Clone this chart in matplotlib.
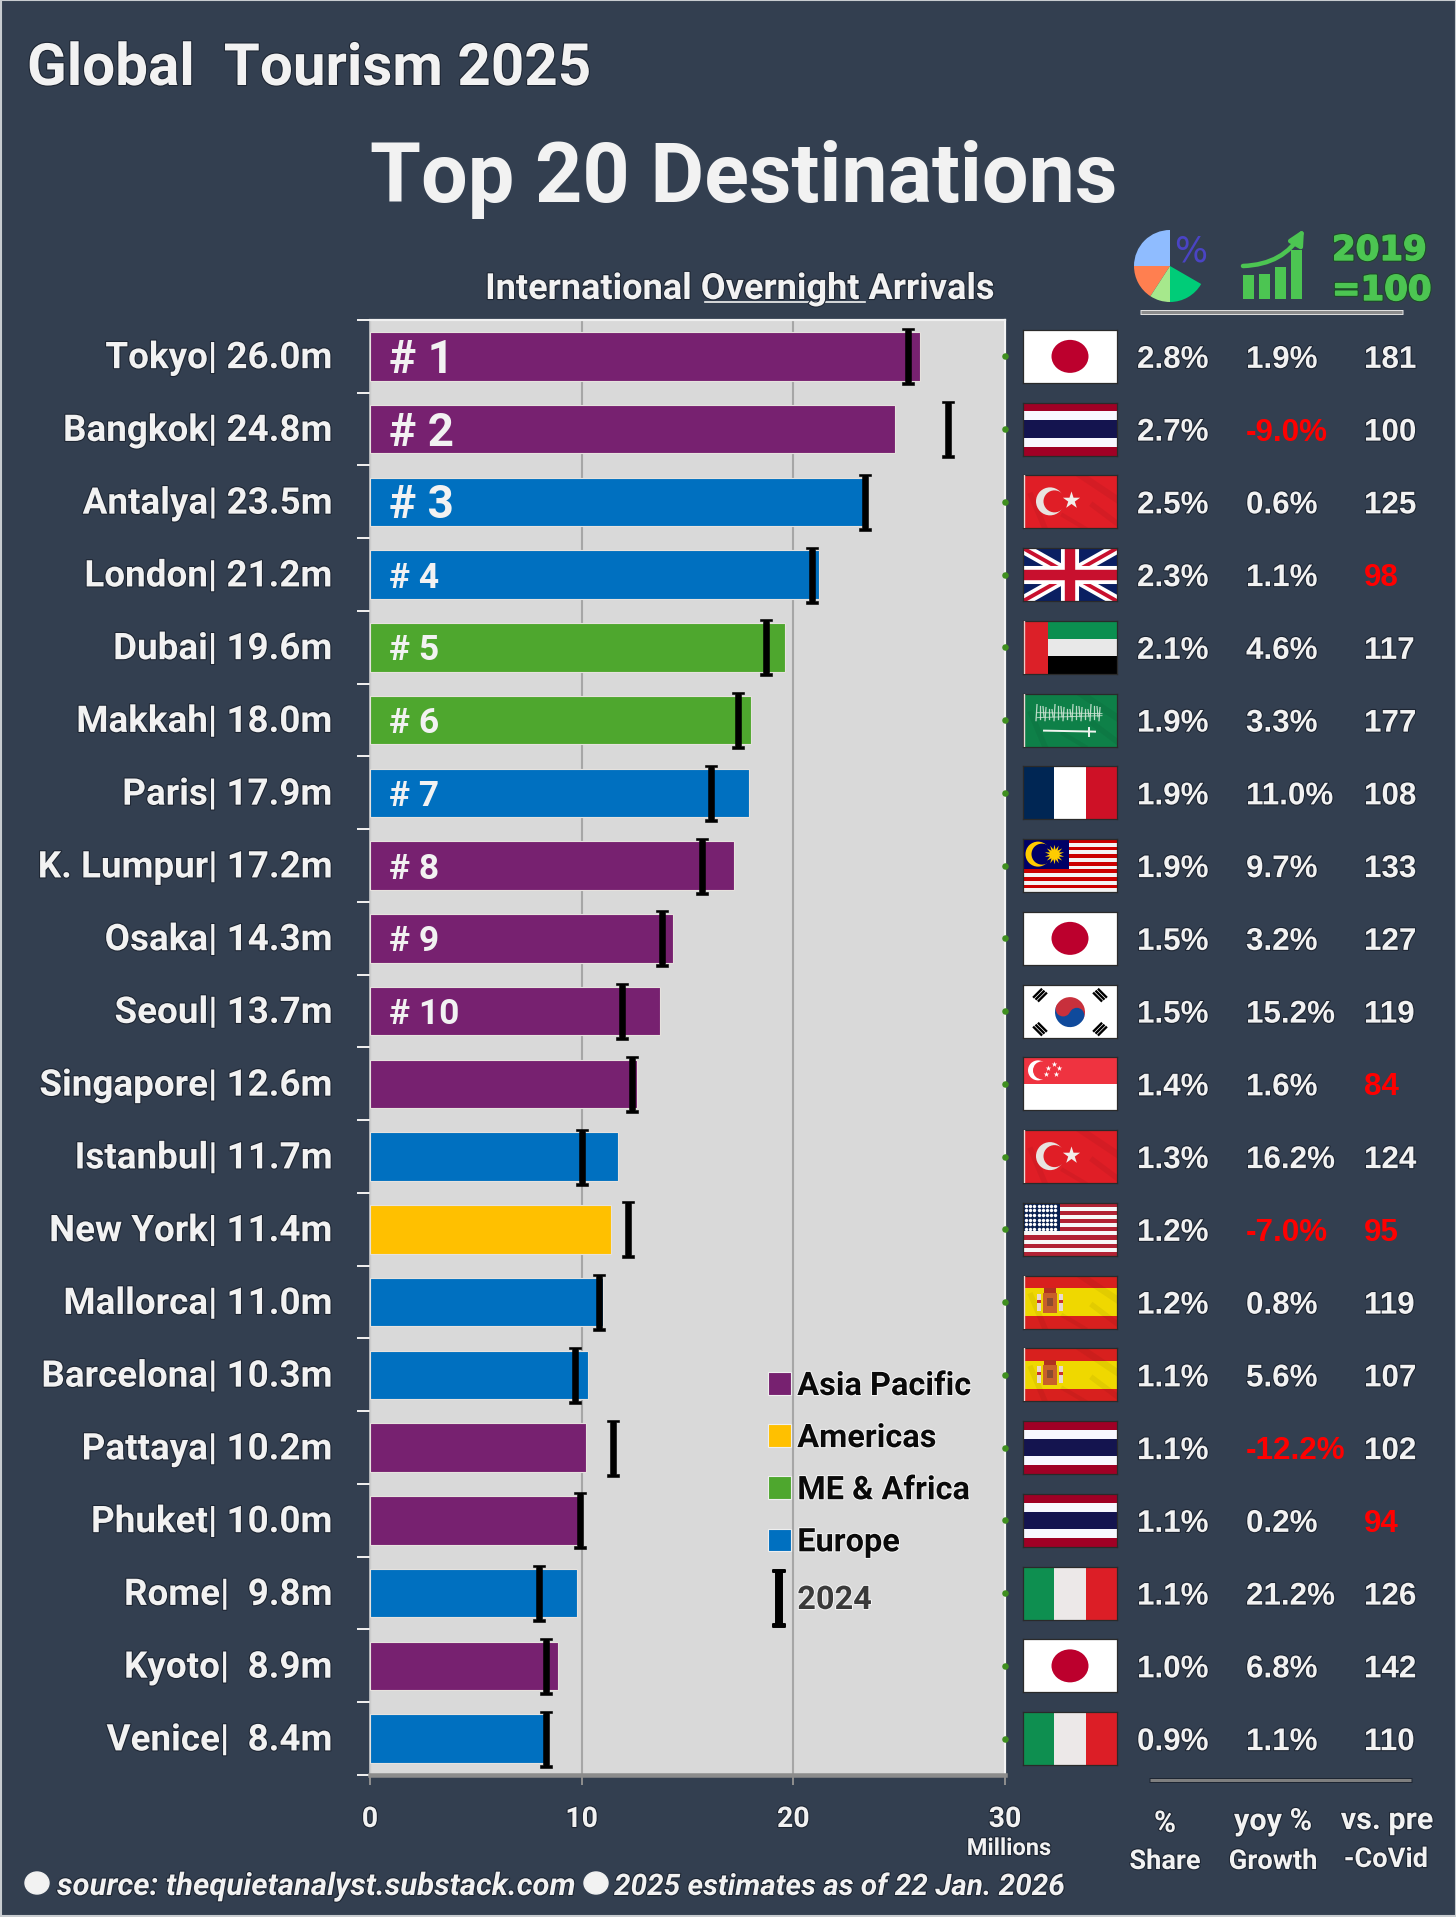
import matplotlib
matplotlib.use("Agg")
import matplotlib.pyplot as plt
import matplotlib.patheffects as pe
from matplotlib.lines import Line2D
from matplotlib.patches import Patch, Rectangle, Wedge, Circle, Ellipse, FancyArrowPatch
from matplotlib.path import Path
from matplotlib.transforms import ScaledTranslation

cities = ["Tokyo", "Bangkok", "Antalya", "London", "Dubai", "Makkah", "Paris", "K. Lumpur", "Osaka", "Seoul",
          "Singapore", "Istanbul", "New York", "Mallorca", "Barcelona", "Pattaya", "Phuket", "Rome", "Kyoto", "Venice"]
arrivals_2025 = [26.0, 24.8, 23.5, 21.2, 19.6, 18.0, 17.9, 17.2, 14.3, 13.7,
                 12.6, 11.7, 11.4, 11.0, 10.3, 10.2, 10.0, 9.8, 8.9, 8.4]
arrivals_2024 = [25.4, 27.3, 23.4, 20.9, 18.7, 17.4, 16.1, 15.7, 13.8, 11.9,
                 12.4, 10.0, 12.2, 10.8, 9.7, 11.5, 9.9, 8.0, 8.3, 8.3]
regions = ["AP", "AP", "EU", "EU", "ME", "ME", "EU", "AP", "AP", "AP",
           "AP", "EU", "AM", "EU", "EU", "AP", "AP", "EU", "AP", "EU"]
share = ["2.8%", "2.7%", "2.5%", "2.3%", "2.1%", "1.9%", "1.9%", "1.9%", "1.5%", "1.5%",
         "1.4%", "1.3%", "1.2%", "1.2%", "1.1%", "1.1%", "1.1%", "1.1%", "1.0%", "0.9%"]
growth = ["1.9%", "-9.0%", "0.6%", "1.1%", "4.6%", "3.3%", "11.0%", "9.7%", "3.2%", "15.2%",
          "1.6%", "16.2%", "-7.0%", "0.8%", "5.6%", "-12.2%", "0.2%", "21.2%", "6.8%", "1.1%"]
vs_2019 = [181, 100, 125, 98, 117, 177, 108, 133, 127, 119, 84, 124, 95, 119, 107, 102, 94, 126, 142, 110]
flags = ["jp", "th", "tr", "gb", "ae", "sa", "fr", "my", "jp", "kr", "sg", "tr", "us", "es", "es", "th", "th", "it", "jp", "it"]
xticks = [0, 10, 20, 30]
legend_labels = {"AP": "Asia Pacific", "AM": "Americas", "ME": "ME & Africa", "EU": "Europe"}

W, H = 1456, 1917
BG = "#333F50"
WHITE = "#F2F2F2"
RED = "#FF0000"
GREEN = "#4CC552"
region_colors = {"AP": "#772170", "AM": "#FFC000", "ME": "#4EA72E", "EU": "#0070C0"}
FONT = "Roboto"
halo = [pe.withStroke(linewidth=1.6, foreground="#1E2633")]
white_halo = [pe.withStroke(linewidth=1.5, foreground="#F4F4F4")]

fig = plt.figure(figsize=(W / 100, H / 100), dpi=100, facecolor=BG)
PX = 0.72  # points per pixel at 100 dpi

AX_L, AX_R, AX_T, AX_B = 370, 1005, 320, 1775
ROW = (AX_B - AX_T) / 20


def row_y(i):
    return AX_T + ROW * (i + 0.5)


# ---- main chart ----
ax = fig.add_axes([AX_L / W, 1 - AX_B / H, (AX_R - AX_L) / W, (AX_B - AX_T) / H])
ax.set_facecolor("#D9D9D9")
ypos = list(range(len(cities)))
ax.barh(ypos, arrivals_2025, height=0.67, color=[region_colors[r] for r in regions],
        edgecolor="#E6E2DE", linewidth=0.8, zorder=3)
ax.set_xlim(0, 30)
ax.set_ylim(19.5, -0.5)
ax.set_xticks(xticks)
ax.xaxis.grid(True, color="#A6A6A6", lw=1.5, zorder=1)
ax.set_axisbelow(True)
ax.tick_params(axis="x", length=10 * PX, width=2 * PX, color="#8C8C8C", pad=21 * PX,
               labelsize=20.5, labelcolor=WHITE)
for t in ax.get_xticklabels():
    t.set_fontfamily(FONT)
    t.set_fontweight("bold")
    t.set_path_effects(halo)

labels = [f"{c}| {v:.1f}m" if v >= 10 else f"{c}|  {v:.1f}m" for c, v in zip(cities, arrivals_2025)]
ax.set_yticks(ypos)
ax.set_yticklabels(labels, fontfamily=FONT, fontweight="bold", fontsize=26.5, color=WHITE, path_effects=halo)
ax.tick_params(axis="y", which="major", length=0, pad=38 * PX)
label_shift = ScaledTranslation(0, 2.2 * PX / 72, fig.dpi_scale_trans)
for t in ax.get_yticklabels():
    t.set_transform(t.get_transform() + label_shift)
ax.set_yticks([k - 0.5 for k in range(21)], minor=True)
ax.tick_params(axis="y", which="minor", length=13 * PX, width=2 * PX, color="#EDEDED")

for side, c, lw in [("top", "#F0F0F0", 2.2), ("right", "#F4F4F4", 2.2), ("bottom", "#8C8C8C", 4.5), ("left", "#D9D9D9", 1.5)]:
    ax.spines[side].set_color(c)
    ax.spines[side].set_linewidth(lw * PX)

# 2024 I-beam markers
s, c, h = 0.05, 0.105, 0.05
ibeam = Path([(-c, -0.5), (c, -0.5), (c, -0.5 + h), (s, -0.5 + h), (s, 0.5 - h), (c, 0.5 - h), (c, 0.5),
              (-c, 0.5), (-c, 0.5 - h), (-s, 0.5 - h), (-s, -0.5 + h), (-c, -0.5 + h), (-c, -0.5)], closed=True)
ax.plot(arrivals_2024, ypos, ls="none", marker=ibeam, ms=57 * PX, mfc="black", mec="black", mew=0.4, zorder=5)

# green dots on the right edge
ax.scatter([30] * len(ypos), ypos, s=22, color="#3F8F1F", zorder=6, clip_on=False, linewidths=0)

# rank labels
for i in range(10):
    big = i < 3
    ax.annotate(f"# {i + 1}", (0, i), xytext=(19 * PX, -2.5), textcoords="offset points",
                ha="left", va="center", fontsize=33 if big else 25.5, fontweight="bold",
                fontfamily=FONT, color=WHITE, zorder=6)


# legends
def place(handles, names, left, top, spacing, color):
    leg = ax.legend(handles, names, loc="upper left", bbox_to_anchor=(left / W, 1 - top / H),
                    bbox_transform=fig.transFigure, frameon=False, borderpad=0, borderaxespad=0,
                    handlelength=0.7, handleheight=0.7, handletextpad=0.2, labelspacing=spacing,
                    prop={"family": FONT, "weight": "bold", "size": 23.4}, numpoints=1)
    for t in leg.get_texts():
        t.set_color(color)
        t.set_path_effects(white_halo)
    leg.set_zorder(8)
    return leg


patches = [Patch(facecolor=region_colors[k], edgecolor="#EFEFEF", linewidth=0.8) for k in legend_labels]
leg1 = place(patches, list(legend_labels.values()), 768, 1371, 0.68, "#0A0A0A")
ax.add_artist(leg1)
leg2 = place([Line2D([], [], ls="none", marker=ibeam, ms=57 * PX, mfc="black", mec="black", mew=1.4)],
             ["2024"], 768, 1585, 0.68, "#3A3A3A")

# ---- overlay in pixel coordinates ----
ov = fig.add_axes([0, 0, 1, 1], zorder=10)
ov.set_xlim(0, W)
ov.set_ylim(H, 0)
ov.axis("off")
ov.patch.set_alpha(0)


def T(x, y, s, size, ha="left", color=WHITE, family=FONT, weight="bold", style="normal", effects=halo):
    return ov.text(x, y, s, fontsize=size, ha=ha, va="baseline", color=color, fontfamily=family,
                   fontweight=weight, fontstyle=style, path_effects=effects)


T(27, 85, "Global  Tourism 2025", 42)
T(744, 202, "Top 20 Destinations", 59.5, ha="center", effects=None)
T(740, 299, "International Overnight Arrivals", 26, ha="center")
ov.add_line(Line2D([705, 865], [302, 302], color=WHITE, lw=1.2))

for i in range(len(cities)):
    base = row_y(i) + 11.5
    T(1137, base, share[i], 22.6, family="Liberation Sans")
    neg = growth[i].startswith("-")
    T(1246, base, growth[i], 22.6, family="Liberation Sans", color=RED if neg else WHITE, effects=None if neg else halo)
    low = vs_2019[i] < 100
    T(1364, base, str(vs_2019[i]), 22.6, family="Liberation Sans", color=RED if low else WHITE, effects=None if low else halo)

# column foot labels
T(1009, 1855, "Millions", 17, ha="center")
T(1165, 1832, "%", 21.5, ha="center")
T(1165, 1869, "Share", 19.6, ha="center")
T(1273, 1830, "yoy %", 22, ha="center")
T(1273, 1869, "Growth", 19.7, ha="center")
T(1387, 1829, "vs. pre", 22, ha="center")
T(1386, 1867, "-CoVid", 19.6, ha="center")

# rules
for x0, x1, y, col in [(1140, 1403, 312, "#8C8C8C"), (1149, 1412, 1780, "#7F7F7F")]:
    ov.add_line(Line2D([x0, x1], [y, y], color="#E0E0E0" if y < 1000 else "#1E2633", lw=5 * PX, solid_capstyle="butt"))
    ov.add_line(Line2D([x0 + 1, x1 - 1], [y, y], color=col, lw=3 * PX, solid_capstyle="butt"))

# footer
ov.add_patch(Ellipse((37, 1883), 24, 22, color=WHITE))
T(57, 1895, "source: thequietanalyst.substack.com", 22.4, style="italic")
ov.add_patch(Ellipse((596, 1883), 24, 22, color=WHITE))
T(614, 1895, "2025 estimates as of 22 Jan. 2026", 21.4, style="italic")

# header icons: pie (drawn with y down, so wedge angles run clockwise on screen)
PC, PY, PR = 1170, 266, 36
for a0, a1, col in [(180, 270, "#8FBCFF"), (123, 180, "#FF7F50"), (90, 123, "#A6E88C"), (30, 90, "#00CC78")]:
    ov.add_patch(Wedge((PC, PY), PR, a0, a1, color=col, lw=0))
T(1191, 262, "%", 25, ha="center", color="#4A44C4", family="DejaVu Sans", weight="normal", effects=None)

# growth icon
bar_x = [1243, 1259, 1275, 1291]
bar_top = [275, 274, 267, 250]
for bx, bt in zip(bar_x, bar_top):
    ov.add_patch(Rectangle((bx, bt), 11, 299 - bt, color=GREEN, lw=0))
ov.add_patch(FancyArrowPatch((1243, 266), (1304, 229), connectionstyle="arc3,rad=0.28", arrowstyle="-|>",
                             mutation_scale=22, color=GREEN, lw=4.5 * PX, shrinkA=0, shrinkB=0))
green_fx = [pe.withStroke(linewidth=2.6, foreground="#1E4A2A"), pe.withStroke(linewidth=1.0, foreground=GREEN)]
T(1332, 260, "2019", 24.5, color=GREEN, family="DejaVu Sans", effects=green_fx)
T(1332, 300, "=100", 24.5, color=GREEN, family="DejaVu Sans", effects=green_fx)

# figure border
ov.add_patch(Rectangle((0.5, 0.5), W - 1, H - 1, fill=False, ec="#C8CCD0", lw=1.5))

# ---- flags ----
FW, FH = 94, 53


def stripes_h(a, cols, fracs):
    y = 0
    for col, f in zip(cols, fracs):
        a.add_patch(Rectangle((0, y), FW, FH * f, color=col, lw=0))
        y += FH * f


def stripes_v(a, cols, fracs):
    x = 0
    for col, f in zip(cols, fracs):
        a.add_patch(Rectangle((x, 0), FW * f, FH, color=col, lw=0))
        x += FW * f


def crescent(a, x, y, r, dx, r2, fg, bg, z=2):
    a.add_patch(Circle((x, y), r, color=fg, lw=0, zorder=z))
    a.add_patch(Circle((x + dx, y), r2, color=bg, lw=0, zorder=z + 0.1))


def folds(a, col="#000000", alpha=0.05):
    """Soft diagonal creases of the photographed flags."""
    for x0, y0, x1, y1, lw in [(58, 0, 94, 24, 5), (70, 30, 94, 48, 4), (8, 20, 22, 53, 4), (40, 40, 62, 53, 3)]:
        a.add_line(Line2D([x0, x1], [y0, y1], color=col, alpha=alpha, lw=lw, zorder=2.5))
    a.add_line(Line2D([0.8, 0.8], [0, FH], color="#EBD8D8", lw=1, zorder=6))


def flag_jp(a):
    a.set_facecolor("white")
    a.add_patch(Ellipse((FW / 2, FH / 2), 37, 33, color="#BC002D", lw=0))


def flag_th(a):
    stripes_h(a, ["#A00025", "#F8F8FF", "#14144F", "#F8F8FF", "#A00025"], [1 / 6, 1 / 6, 2 / 6, 1 / 6, 1 / 6])


def flag_tr(a):
    a.set_facecolor("#E01E26")
    folds(a)
    crescent(a, 27, 26, 14, 4.5, 11, "#E8E4E0", "#E01E26", z=3)
    a.scatter([48], [25], marker="*", s=170, color="#F2EEEA", linewidths=0, zorder=4)


def flag_gb(a):
    a.set_facecolor("#0A1F62")
    for pts in [((0, 0), (FW, FH)), ((0, FH), (FW, 0))]:
        xs, ys = zip(*pts)
        a.add_line(Line2D(xs, ys, color="white", lw=8))
        a.add_line(Line2D(xs, ys, color="#C8102E", lw=2.8))
    a.add_line(Line2D([FW / 2] * 2, [0, FH], color="white", lw=13))
    a.add_line(Line2D([0, FW], [FH / 2] * 2, color="white", lw=13))
    a.add_line(Line2D([FW / 2] * 2, [0, FH], color="#C8102E", lw=7.5))
    a.add_line(Line2D([0, FW], [FH / 2] * 2, color="#C8102E", lw=7.5))


def flag_ae(a):
    stripes_h(a, ["#0B8F50", "#E8E8E8", "#000000"], [1 / 3, 1 / 3, 1 / 3])
    a.add_patch(Rectangle((0, 0), 25, FH, color="#DC2028", lw=0, zorder=2))
    a.add_line(Line2D([0.8, 0.8], [0, FH], color="#E8C8C8", lw=1, zorder=3))


def flag_sa(a):
    a.set_facecolor("#0E8048")
    folds(a)
    for k in range(22):
        x = 14 + k * 3
        top = 11 + (k * 7) % 6
        a.add_line(Line2D([x, x + (k % 3) - 1], [top, 27 - (k % 3) * 2], color="#CFE6D6", lw=0.9, alpha=0.9, zorder=3))
    for y0, y1 in [(24, 22), (19, 20)]:
        a.add_line(Line2D([14, 79], [y0, y1], color="#CFE6D6", lw=0.7, alpha=0.8, zorder=3))
    a.add_line(Line2D([21, 72], [37, 38], color="#F0F5F0", lw=1.4, zorder=3))
    a.add_line(Line2D([66, 66], [34, 42], color="#F0F5F0", lw=1.4, zorder=3))


def flag_fr(a):
    stripes_v(a, ["#002654", "#FFFFFF", "#CE1126"], [0.33, 0.34, 0.33])


def flag_my(a):
    n = 14
    stripes_h(a, ["#CC0000" if k % 2 == 0 else "#F4F4F4" for k in range(n)], [1 / n] * n)
    a.add_patch(Rectangle((0, 0), 46, FH * 8 / n, color="#000066", lw=0, zorder=2))
    crescent(a, 15, 15, 12.5, 4, 10.5, "#FFCC00", "#000066", z=3)
    a.scatter([31], [15], marker=(14, 1, 0), s=200, color="#FFCC00", linewidths=0, zorder=5)


def flag_kr(a):
    a.set_facecolor("white")
    cx, cy, r = FW / 2, FH / 2 + 1, 15
    a.add_patch(Wedge((cx, cy), r, 180 + 25, 360 + 25, color="#C8303C", lw=0, zorder=2))
    a.add_patch(Wedge((cx, cy), r, 25, 205, color="#0F4A9C", lw=0, zorder=2))
    a.add_patch(Circle((cx - 6.8, cy - 3.2), 7.5, color="#C8303C", lw=0, zorder=3))
    a.add_patch(Circle((cx + 6.8, cy + 3.2), 7.5, color="#0F4A9C", lw=0, zorder=3))
    for sx in (-1, 1):
        for sy in (-1, 1):
            for off in (-4, 0, 4):
                mx = cx + sx * (30 + off * 0.6)
                my = cy + sy * (17 + off * 0.6 * 0.8)
                dx, dy = sy * 6 * 0.75, -sx * 6 * 0.75
                a.add_line(Line2D([mx - dx, mx + dx], [my - dy, my + dy], color="black", lw=1.7, solid_capstyle="butt"))


def flag_sg(a):
    stripes_h(a, ["#EF3340", "#FFFFFF"], [0.5, 0.5])
    crescent(a, 15, 13, 10, 4, 9, "white", "#EF3340", z=3)
    a.scatter([25, 31, 36, 22.5, 33], [11, 7, 11, 17, 17], marker="*", s=18, color="white", linewidths=0, zorder=5)


def flag_us(a):
    n = 13
    stripes_h(a, ["#B22234" if k % 2 == 0 else "#F8F8F8" for k in range(n)], [1 / n] * n)
    a.add_patch(Rectangle((0, 0), 37, FH * 7 / n, color="#0A2050", lw=0, zorder=2))
    xs = [3 + 4.2 * k for k in range(8) for _ in range(6)]
    ys = [3 + 4.6 * j for _ in range(8) for j in range(6)]
    a.scatter(xs, ys, s=6, color="white", linewidths=0, zorder=3)


def flag_es(a):
    stripes_h(a, ["#D8201E", "#EFD800", "#D8201E"], [0.24, 0.52, 0.24])
    folds(a, alpha=0.05)
    a.add_patch(Rectangle((20, 17), 14, 20, color="#C8602A", lw=0, zorder=3))
    a.add_patch(Rectangle((21, 12), 12, 5, color="#B03020", lw=0, zorder=3))
    a.add_patch(Rectangle((24, 22), 6, 8, color="#8A4A30", lw=0, zorder=4))
    for x in (14, 36):
        a.add_patch(Rectangle((x, 18), 3.5, 17, color="#E8D8D0", lw=0, zorder=3))
        a.add_patch(Rectangle((x, 24), 3.5, 3, color="#C83030", lw=0, zorder=4))


def flag_it(a):
    stripes_v(a, ["#0E8F50", "#ECE8E8", "#DC1E26"], [0.33, 0.34, 0.33])


drawers = dict(jp=flag_jp, th=flag_th, tr=flag_tr, gb=flag_gb, ae=flag_ae, sa=flag_sa, fr=flag_fr,
               my=flag_my, kr=flag_kr, sg=flag_sg, us=flag_us, es=flag_es, it=flag_it)
for i, code in enumerate(flags):
    top = row_y(i) - FH / 2
    a = fig.add_axes([1023 / W, 1 - (top + FH) / H, FW / W, FH / H], zorder=11)
    a.set_xlim(0, FW)
    a.set_ylim(FH, 0)
    a.set_xticks([])
    a.set_yticks([])
    for sp in a.spines.values():
        sp.set_color("#2A2A2A")
        sp.set_linewidth(0.9)
    drawers[code](a)

fig.savefig("out.png", dpi=100, facecolor=BG)
